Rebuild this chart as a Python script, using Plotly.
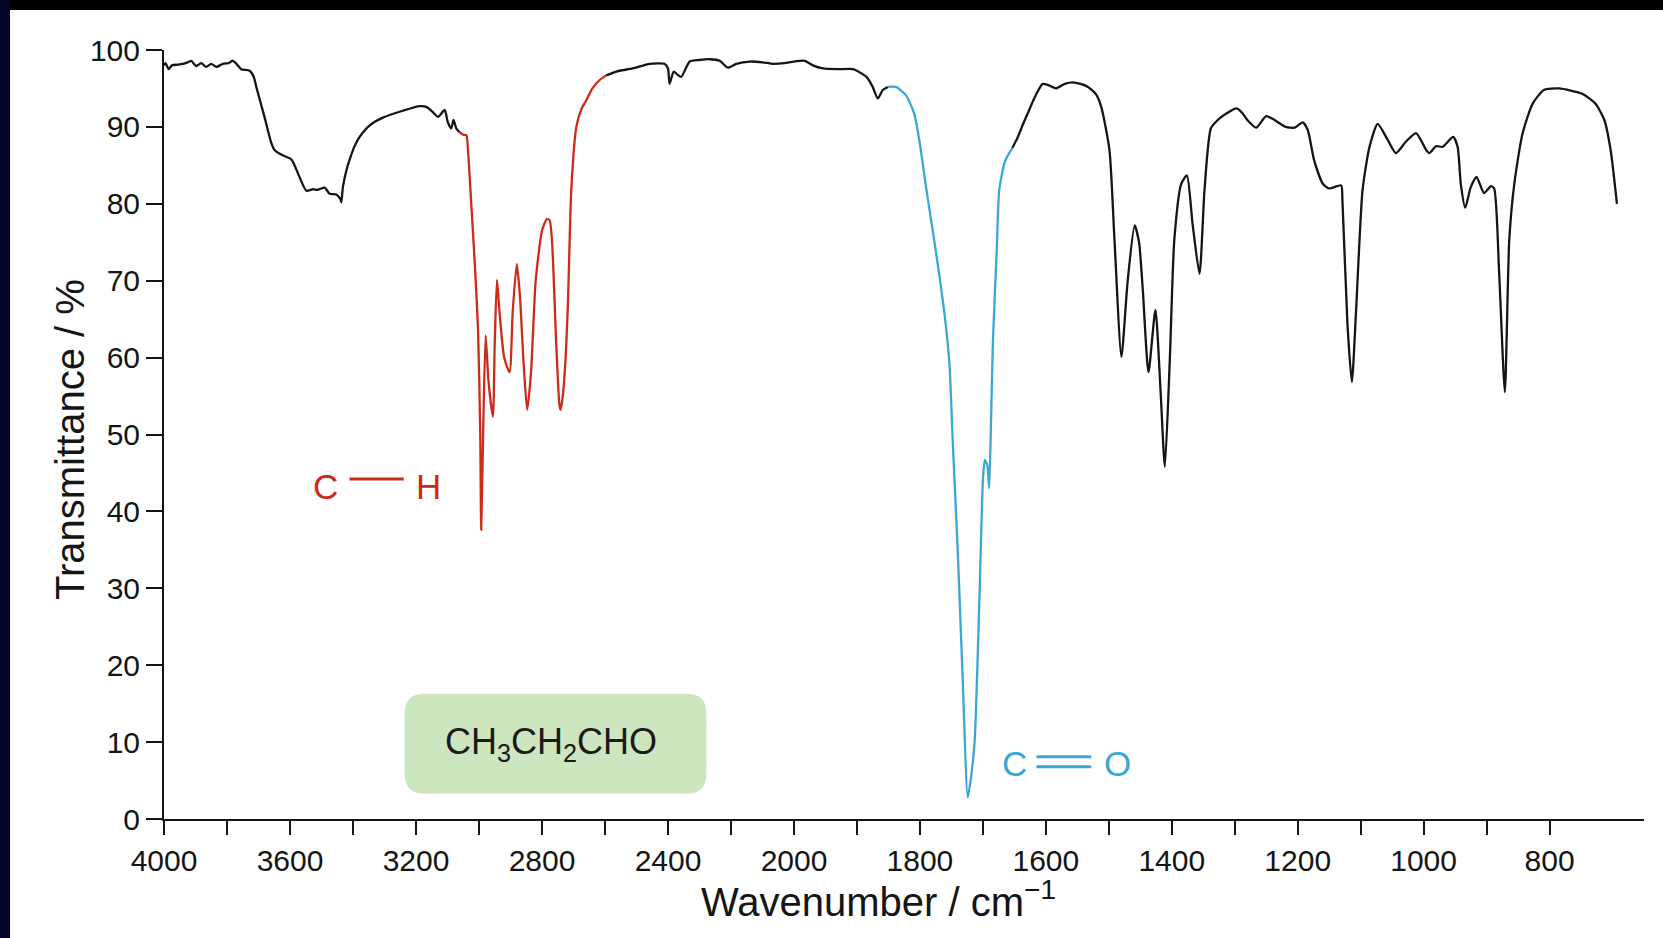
import plotly.graph_objects as go

# ---------------- data (wavenumber / cm^-1, transmittance / %) ----------------
black1_w = [4000, 3995, 3985, 3975, 3955, 3940, 3925, 3913, 3905, 3897, 3882, 3866, 3850, 3834,
            3813, 3795, 3781, 3770, 3755, 3728, 3715, 3707, 3681, 3660, 3649, 3623, 3600, 3591,
            3570, 3548, 3527, 3515, 3506, 3490, 3474, 3453, 3440, 3437, 3432, 3420, 3411, 3395,
            3379, 3347, 3305, 3242, 3189, 3167, 3146, 3130, 3109, 3099, 3088, 3081, 3072, 3062]
black1_t = [98.0, 98.3, 97.5, 98.0, 98.1, 98.2, 98.4, 98.6, 98.2, 97.9, 98.3, 97.8, 98.2, 97.8,
            98.2, 98.3, 98.6, 98.2, 97.5, 97.3, 96.5, 95.2, 91.3, 88.0, 87.0, 86.3, 85.9, 85.5,
            83.5, 81.7, 81.9, 81.8, 81.9, 82.1, 81.3, 81.2, 80.6, 80.2, 82.2, 84.5, 85.7, 87.5,
            88.7, 90.2, 91.2, 92.1, 92.7, 92.6, 91.9, 91.3, 92.2, 90.6, 89.8, 90.9, 89.8, 89.3]

ch_w = [3062, 3050, 3040, 3035, 3024, 3013, 3003, 2996, 2993, 2987, 2979, 2970, 2956, 2950,
        2943, 2935, 2920, 2903, 2893, 2880, 2870, 2858, 2847, 2835, 2820, 2800, 2785, 2776,
        2768, 2755, 2745, 2741, 2734, 2725, 2718, 2707, 2691, 2675, 2659, 2640, 2617, 2596]
ch_t = [89.3, 89.0, 88.9, 87.0, 79.6, 72.0, 63.6, 50.0, 37.6, 50.0, 62.9, 57.0, 52.3, 62.0,
        70.1, 66.0, 60.0, 58.1, 66.0, 72.2, 68.0, 59.0, 53.2, 58.0, 70.0, 76.5, 78.0, 77.9,
        75.0, 62.0, 54.0, 53.2, 55.0, 60.0, 66.6, 81.8, 90.0, 92.3, 93.5, 95.0, 96.1, 96.7]

black2_w = [2596, 2564, 2512, 2458, 2411, 2400, 2395, 2382, 2370, 2358, 2331, 2300, 2268, 2236,
            2210, 2183, 2141, 2100, 2067, 2030, 2000]
black2_t = [96.7, 97.2, 97.6, 98.2, 98.2, 97.6, 95.6, 97.2, 96.8, 96.5, 98.5, 98.7, 98.8, 98.6,
            97.7, 98.2, 98.5, 98.4, 98.2, 98.3, 98.5]

black3_w = [2000, 1983, 1970, 1954, 1930, 1906, 1885, 1875, 1867, 1859, 1851]
black3_t = [98.5, 98.6, 98.0, 97.6, 97.5, 97.5, 96.5, 95.2, 93.7, 94.8, 95.2]

co_w = [1851, 1838, 1822, 1809, 1801, 1790, 1775, 1760, 1753, 1748, 1740, 1732, 1724, 1718,
        1713, 1705, 1700, 1697, 1693, 1690, 1687, 1684, 1678, 1674, 1665, 1653]
co_t = [95.2, 95.2, 94.1, 91.7, 88.3, 82.0, 74.0, 65.0, 59.0, 49.3, 35.0, 18.0, 2.8, 6.0,
        10.2, 30.0, 44.0, 46.7, 46.0, 43.0, 52.0, 62.3, 74.0, 81.8, 85.5, 87.3]

black4_w = [1653, 1645, 1636, 1626, 1615, 1605, 1595, 1584, 1570, 1557, 1545, 1533, 1520, 1512,
            1499, 1491, 1480, 1470, 1459, 1452, 1446, 1437, 1426, 1418, 1411, 1403, 1396, 1385,
            1376, 1367, 1356, 1348, 1338, 1327, 1314, 1297, 1288, 1280, 1266, 1250, 1237, 1219,
            1205, 1192, 1184, 1174, 1160, 1150, 1131, 1129, 1121, 1114, 1107, 1097, 1086, 1073,
            1057, 1044, 1028, 1012, 996, 991, 980, 970, 953, 946, 941, 934, 925, 916, 904, 893,
            888, 880, 871, 864, 856, 843, 827, 809, 785, 748, 727, 713, 703, 693]
black4_t = [87.3, 88.6, 90.4, 92.3, 94.3, 95.6, 95.4, 95.0, 95.6, 95.8, 95.6, 95.2, 94.2, 92.6,
            87.0, 75.3, 60.1, 70.0, 77.2, 75.0, 68.8, 58.1, 66.2, 56.0, 45.8, 60.0, 75.3, 82.6,
            83.7, 77.4, 70.9, 81.8, 89.8, 90.9, 91.7, 92.4, 91.8, 90.9, 89.9, 91.4, 90.9, 90.0,
            89.9, 90.6, 89.6, 85.7, 82.6, 82.0, 82.4, 80.5, 64.4, 56.8, 66.6, 81.8, 87.4, 90.4,
            88.3, 86.6, 88.1, 89.2, 87.0, 86.6, 87.5, 87.4, 88.7, 87.4, 82.6, 79.5, 82.2, 83.5,
            81.4, 82.3, 82.0, 70.9, 55.5, 75.3, 82.6, 89.1, 93.0, 94.8, 95.0, 94.3, 93.0, 90.9,
            87.0, 80.0]

upper_labels = [4000, 3600, 3200, 2800, 2400, 2000]
upper_minor = [3800, 3400, 3000, 2600, 2200]
lower_labels = [1800, 1600, 1400, 1200, 1000, 800]
lower_minor = [1900, 1700, 1500, 1300, 1100, 900]
y_ticks = list(range(0, 101, 10))

# ---------------- styling ----------------
BLACK = "#151515"
RED = "#cc2b18"
BLUE = "#3aa8d4"
FONT = "Liberation Sans, Arial, sans-serif"

W, H = 1663, 938
L, R, T, B = 164, 19, 50, 119
PW = W - L - R
PH = H - T - B
SPLIT = 630 / PW  # fraction of plot width for 4000-2000 segment

fig = go.Figure()

def add_line(xs, ys, color, axis):
    fig.add_trace(go.Scatter(x=xs, y=ys, mode="lines", xaxis=axis, yaxis="y",
                             line=dict(color=color, width=2.3, shape="spline", smoothing=0.6),
                             hoverinfo="skip", showlegend=False))

add_line(black1_w, black1_t, BLACK, "x")
add_line(ch_w, ch_t, RED, "x")
add_line(black2_w, black2_t, BLACK, "x")
add_line(black3_w, black3_t, BLACK, "x2")
add_line(co_w, co_t, BLUE, "x2")
add_line(black4_w, black4_t, BLACK, "x2")

def x_axis(domain, rng, labels, minor_vals):
    return dict(domain=domain, range=rng, tickmode="array", tickvals=labels,
                ticktext=[str(v) for v in labels],
                showgrid=False, zeroline=False, showline=True, linecolor=BLACK, linewidth=2,
                ticks="outside", ticklen=14, tickwidth=1.6, tickcolor=BLACK,
                minor=dict(tickmode="array", tickvals=minor_vals, ticks="outside", ticklen=14,
                           tickwidth=1.6, tickcolor=BLACK, showgrid=False),
                tickfont=dict(family=FONT, size=30, color=BLACK), anchor="y", automargin=False)

fig.update_layout(
    width=W, height=H,
    margin=dict(l=L, r=R, t=T, b=B, autoexpand=False),
    paper_bgcolor="white", plot_bgcolor="white",
    xaxis=x_axis([0, SPLIT], [4000, 2000], upper_labels, upper_minor),
    xaxis2=x_axis([SPLIT, 1], [2000, 650], lower_labels, lower_minor),
    yaxis=dict(range=[0, 100], tickmode="array", tickvals=y_ticks, showgrid=False, zeroline=False,
               showline=True, linecolor=BLACK, linewidth=2, ticks="outside", ticklen=16,
               tickwidth=1.6, tickcolor=BLACK, automargin=False,
               tickfont=dict(family=FONT, size=30, color=BLACK)),
    showlegend=False,
)

# axis titles
fig.add_annotation(text="Wavenumber / cm<sup>−1</sup>", xref="paper", yref="paper",
                   x=(878 - L) / PW, y=-(899 - (T + PH)) / PH, showarrow=False,
                   font=dict(family=FONT, size=40, color=BLACK), xanchor="center", yanchor="middle")
fig.add_annotation(text="Transmittance / %", xref="paper", yref="paper",
                   x=(70 - L) / PW, y=((T + PH) - 440) / PH, showarrow=False, textangle=-90,
                   font=dict(family=FONT, size=40, color=BLACK), xanchor="center", yanchor="middle")

# compound label box
bx0, bx1, by0, by1 = 3236, 2278, 3.3, 16.3
rx, ry = 63, 2.6
box_path = (f"M {bx0 - rx},{by1} L {bx1 + rx},{by1} Q {bx1},{by1} {bx1},{by1 - ry} "
            f"L {bx1},{by0 + ry} Q {bx1},{by0} {bx1 + rx},{by0} L {bx0 - rx},{by0} "
            f"Q {bx0},{by0} {bx0},{by0 + ry} L {bx0},{by1 - ry} Q {bx0},{by1} {bx0 - rx},{by1} Z")
fig.add_shape(type="path", path=box_path, xref="x", yref="y", fillcolor="#cde6bf",
              line=dict(width=0), layer="below")
fig.add_annotation(text="CH<sub>3</sub>CH<sub>2</sub>CHO", xref="x", yref="y", x=2770, y=9.8,
                   showarrow=False, font=dict(family=FONT, size=36, color="#1a1a1a"))

# C-H label
fig.add_annotation(text="C", xref="x", yref="y", x=3488, y=43.3, showarrow=False,
                   font=dict(family=FONT, size=35, color=RED))
fig.add_annotation(text="H", xref="x", yref="y", x=3161, y=43.3, showarrow=False,
                   font=dict(family=FONT, size=35, color=RED))
fig.add_shape(type="line", xref="x", yref="y", x0=3411, x1=3239, y0=44.2, y1=44.2,
              line=dict(color=RED, width=3))

# C=O label
fig.add_annotation(text="C", xref="x2", yref="y", x=1650, y=7.2, showarrow=False,
                   font=dict(family=FONT, size=35, color=BLUE))
fig.add_annotation(text="O", xref="x2", yref="y", x=1486, y=7.2, showarrow=False,
                   font=dict(family=FONT, size=35, color=BLUE))
for yy in (7.45 + 0.65, 7.45 - 0.65):
    fig.add_shape(type="line", xref="x2", yref="y", x0=1615, x1=1528, y0=yy, y1=yy,
                  line=dict(color=BLUE, width=3))

# scan border (black top band, dark left strip)
fig.add_shape(type="rect", xref="paper", yref="paper", x0=-L / PW, x1=(W - L) / PW,
              y0=(T + PH - 10) / PH, y1=(T + PH) / PH, fillcolor="black", line=dict(width=0))
fig.add_shape(type="rect", xref="paper", yref="paper", x0=-L / PW, x1=(10 - L) / PW,
              y0=-B / PH, y1=(T + PH) / PH, fillcolor="#05052a", line=dict(width=0))

fig.write_html("out.html", config={"displayModeBar": False},
               post_script="document.body.style.margin='0';document.body.style.overflow='hidden';")
